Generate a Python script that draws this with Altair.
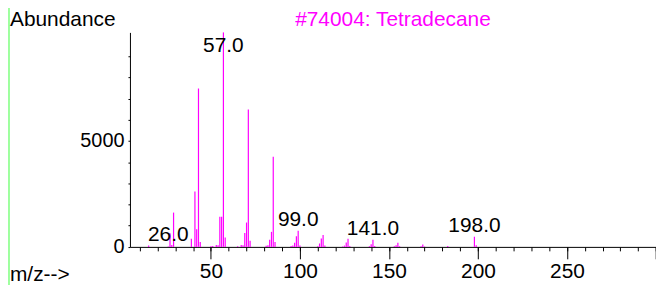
import altair as alt
import pandas as pd

# ---- data ----
mz = [15, 26, 27, 28, 29, 39, 41, 42, 43, 44, 50, 51, 53, 54, 55, 56, 57, 58,
      65, 67, 68, 69, 70, 71, 72, 81, 82, 83, 84, 85, 86, 95, 96, 97, 98, 99,
      100, 110, 111, 112, 113, 114, 124, 125, 126, 127, 128, 139, 140, 141,
      142, 153, 154, 155, 156, 168, 169, 170, 183, 198, 199]
abundance = [60, 20, 645, 90, 1620, 380, 2610, 830, 7480, 230, 30, 40, 90, 80,
             1420, 1420, 10130, 440, 30, 90, 80, 650, 1150, 6490, 290, 50, 80,
             340, 710, 4255, 235, 40, 60, 190, 500, 765, 60, 30, 160, 400, 560,
             60, 20, 60, 210, 385, 40, 30, 120, 335, 40, 30, 80, 195, 30, 30,
             115, 20, 40, 480, 80]
label_mz = [26, 57, 99, 141, 198]

y_title = ["Abundance"]
x_title = ["m/z-->"]
chart_title = ["#74004: Tetradecane"]

x_minor_ticks = list(range(10, 301, 10))
x_major_ticks = list(range(50, 301, 50))
y_ticks = list(range(0, 10000, 1000))

FONT = "Liberation Sans"
MAGENTA = "#FF00FF"
GREEN = "#7FFF7F"

W, H = 529.3, 215.8

df = pd.DataFrame({"mz": mz, "abund": abundance})
lookup = dict(zip(mz, abundance))
lab = pd.DataFrame({"mz": label_mz, "abund": [lookup[m] for m in label_mz]})

xscale = alt.Scale(domain=[4.5, 300], nice=False, zero=False)
yscale = alt.Scale(domain=[0, 10130], nice=False, zero=True)

yaxis = alt.Axis(values=y_ticks, tickSize=2, title=None, grid=False,
                 format="d", labelOverlap=False,
                 labelExpr="datum.value % 5000 == 0 ? datum.label : ''",
                 labelFont=FONT, labelFontSize=20, labelColor="black",
                 labelPadding=4, domainColor="black", tickColor="black")

bars = alt.Chart(df).mark_rule(color=MAGENTA, strokeWidth=1.2).encode(
    x=alt.X("mz:Q", scale=xscale,
            axis=alt.Axis(orient="bottom", values=x_minor_ticks, tickSize=4,
                          labels=False, title=None, grid=False,
                          domainColor="black", tickColor="black",
                          domainWidth=1)),
    y=alt.Y("abund:Q", scale=yscale, axis=yaxis),
    y2=alt.datum(0),
)

labels = alt.Chart(lab).transform_calculate(
    ly="min(datum.abund, 8960)",
    txt="format(datum.mz, '.1f')",
).mark_text(font=FONT, fontSize=21, color="black", align="center",
            baseline="alphabetic", dy=-5).encode(
    x=alt.X("mz:Q", scale=xscale,
            axis=alt.Axis(orient="bottom", values=x_major_ticks, tickSize=12,
                          domain=False, grid=False, title=None,
                          labelOverlap=False,
                          labelExpr="datum.value < 300 ? datum.label : ''",
                          labelFont=FONT, labelFontSize=21, labelColor="black",
                          labelBaseline="alphabetic", labelPadding=18.5,
                          tickColor="black")),
    y=alt.Y("ly:Q", scale=yscale, axis=yaxis),
    text="txt:N",
)

def text_layer(values, x, y, color="black", align="left"):
    return alt.Chart(pd.DataFrame({"t": values})).mark_text(
        font=FONT, fontSize=21, color=color, align=align, baseline="alphabetic"
    ).encode(x=alt.value(x), y=alt.value(y), text="t:N")

t_y = text_layer(y_title, 10 - 130.7, 25 - 31.7)
t_title = text_layer(chart_title, W / 2, 25 - 31.7, color=MAGENTA, align="center")
t_x = text_layer(x_title, 10 - 130.7, 282 - 31.7)

one = pd.DataFrame({"k": [0]})
green_top = alt.Chart(one).mark_rule(color=GREEN, strokeWidth=2).encode(
    x=alt.value(-130.7), x2=alt.value(W + 10), y=alt.value(-30.7))
green_left = alt.Chart(one).mark_rule(color=GREEN, strokeWidth=1.5).encode(
    x=alt.value(-121.7), y=alt.value(-31.7), y2=alt.value(H + 40))

chart = alt.layer(green_top, green_left, bars, labels, t_y, t_title, t_x).resolve_axis(
    x="independent"
).properties(
    width=W, height=H,
    autosize=alt.AutoSizeParams(type="none"),
    padding={"left": 122.7, "top": 23.7, "right": 0, "bottom": 37.5},
).configure_view(stroke=None).configure_axis(labelFont=FONT, labelOverlap=False)

chart.save("out.html", embed_options={"renderer": "svg", "actions": False})
